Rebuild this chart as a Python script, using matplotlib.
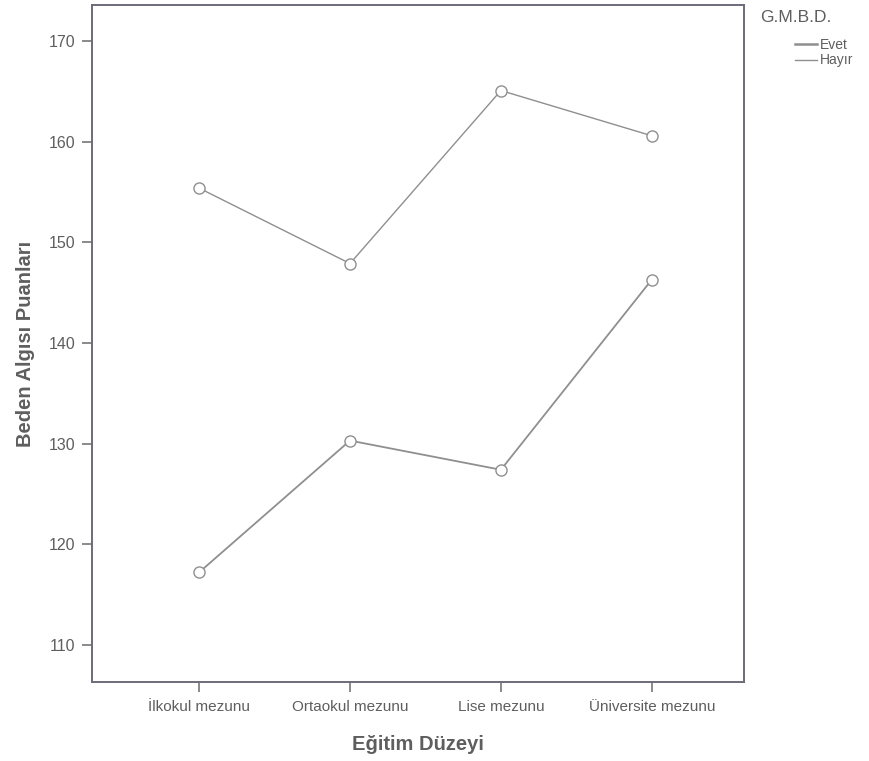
import matplotlib
matplotlib.use("Agg")
import matplotlib.pyplot as plt
from matplotlib.lines import Line2D

plt.rcParams['font.family'] = ['Liberation Sans', 'DejaVu Sans']

categories = ["İlkokul mezunu", "Ortaokul mezunu", "Lise mezunu", "Üniversite mezunu"]
evet = [117.2, 130.3, 127.4, 146.3]
hayir = [155.4, 147.9, 165.1, 160.6]
yticks = [110, 120, 130, 140, 150, 160, 170]

txt = "#5e5e5e"
line_c = "#8f8f8f"
fig = plt.figure(figsize=(8.7, 7.61), dpi=100)
ax = fig.add_axes([0.1057, 0.1038, 0.855 - 0.1057, 0.9934 - 0.1038])

x = list(range(len(categories)))
ax.plot(x, evet, color=line_c, lw=1.3, marker='o', mfc='white', mec="#8f8f8f",
        ms=8, mew=1.0)
ax.plot(x, hayir, color=line_c, lw=1.0, marker='o', mfc='white', mec="#8f8f8f",
        ms=8, mew=1.0)

ax.set_xlim(-0.71, 3.61)
ax.set_ylim(106.3, 173.6)
ax.set_xticks(x)
ax.set_xticklabels(categories, fontsize=11, color=txt)
ax.set_yticks(yticks)
ax.set_yticklabels([str(v) for v in yticks], fontsize=11.5, color=txt)
ax.tick_params(axis='both', colors="#777777", length=7, width=1.2, pad=5)
ax.tick_params(axis='x', pad=6)
for lab in ax.get_xticklabels() + ax.get_yticklabels():
    lab.set_color(txt)
for s in ax.spines.values():
    s.set_color("#6b6b7a")
    s.set_linewidth(1.4)

ax.set_xlabel("Eğitim Düzeyi", fontsize=14.5, fontweight='bold', color=txt, labelpad=15)
ax.set_ylabel("Beden Algısı Puanları", fontsize=14.5, fontweight='bold', color=txt, labelpad=10)

fig.text(760/870, 1 - 18/761, "G.M.B.D.", fontsize=12.5, color=txt, va='center', ha='left')
handles = [Line2D([0], [0], color=line_c, lw=1.8), Line2D([0], [0], color=line_c, lw=1.0)]
leg = fig.legend(handles, ["Evet", "Hayır"], loc='upper left',
                 bbox_to_anchor=(795/870, 1 - 38/761), frameon=False,
                 fontsize=10, handlelength=1.6, handletextpad=0.2,
                 labelspacing=0.1, borderpad=0, borderaxespad=0)
for t in leg.get_texts():
    t.set_color(txt)

fig.savefig("out.png", dpi=100, facecolor='white')
